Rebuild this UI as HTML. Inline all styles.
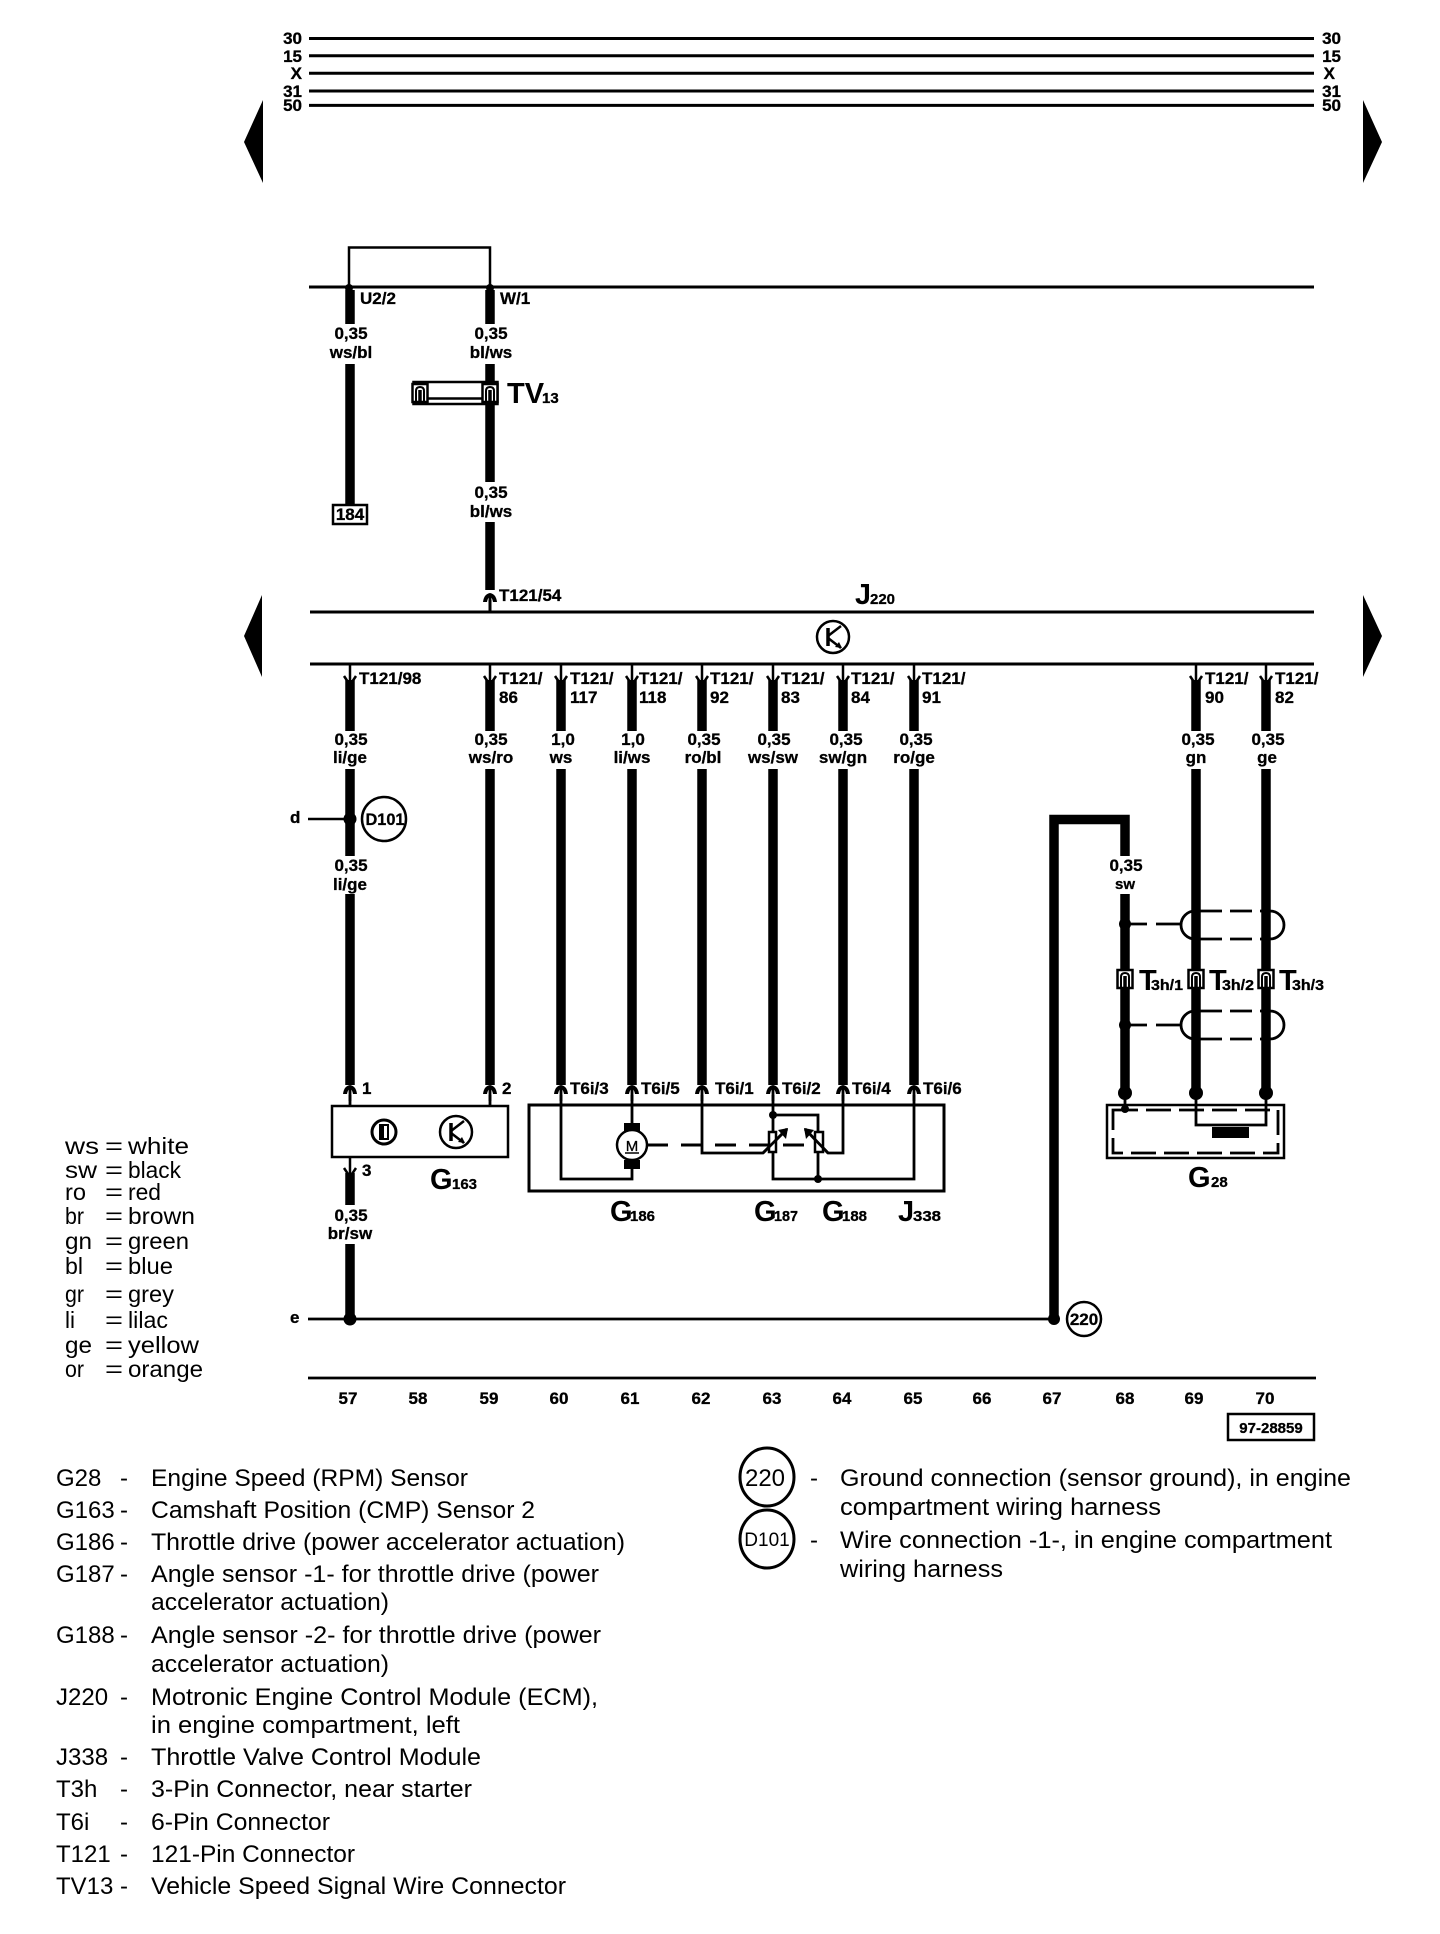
<!DOCTYPE html>
<html><head><meta charset="utf-8"><title>Wiring diagram</title>
<style>
html,body{margin:0;padding:0;background:#fff}
svg{display:block}
text{font-family:"Liberation Sans",sans-serif;fill:#000}
.b{font-weight:bold;font-size:17px;stroke:#000;stroke-width:.3}
.c{text-anchor:middle}
.r{text-anchor:end}
.big{font-weight:bold;font-size:29px}
.sm{font-weight:bold;font-size:15px;stroke:#000;stroke-width:.3}
.lg{font-size:24px}
.cl{font-size:23px}
.w{stroke:#000;stroke-width:9.5;fill:none}
.t{stroke:#000;stroke-width:2.8;fill:none}
.m{stroke:#000;stroke-width:3;fill:none}
.d{stroke:#000;stroke-width:3;fill:none;stroke-dasharray:21 13}
</style></head><body>
<svg width="1440" height="1934" viewBox="0 0 1440 1934" xmlns="http://www.w3.org/2000/svg">
<defs>
<g id="up"><path d="M-7 5Q-6 -3 0 -4Q6 -3 7 5L3 5Q2 0 0 0Q-2 0 -3 5Z" fill="#000"/><path d="M0 -2V12" stroke="#000" stroke-width="2.8"/></g>
<g id="dn"><path d="M0 -16V4" stroke="#000" stroke-width="2.5"/><path d="M-6 -4L0 5L6 -4" stroke="#000" stroke-width="2.5" fill="none"/></g>
<g id="tr"><circle r="16" fill="#fff" stroke="#000" stroke-width="2.5"/><path d="M-5 -9V9" stroke="#000" stroke-width="3.5"/><path d="M-5 -1L8 -11M-5 1L8 11" stroke="#000" stroke-width="2.5"/><path d="M9 11L2 10L6 5Z" fill="#000"/></g>
<g id="pin"><rect x="-7.5" y="-9" width="15" height="18" fill="#fff" stroke="#000" stroke-width="2.5"/><path d="M-4 8V-2Q-4 -6 0 -6Q4 -6 4 -2V8" fill="none" stroke="#000" stroke-width="2"/><path d="M0 -3V9" stroke="#000" stroke-width="3.5"/></g>
</defs>
<rect width="1440" height="1934" fill="#fff"/>

<!-- top bus -->
<path class="m" d="M309 38.5H1314M309 55.7H1314M309 73.2H1314M309 91H1314M309 105.4H1314"/>
<text class="b r" x="302" y="44">30</text><text class="b r" x="302" y="62">15</text><text class="b r" x="302" y="79">X</text><text class="b r" x="302" y="97">31</text><text class="b r" x="302" y="111">50</text>
<text class="b r" x="1341" y="44">30</text><text class="b r" x="1341" y="62">15</text><text class="b r" x="1335" y="79">X</text><text class="b r" x="1341" y="97">31</text><text class="b r" x="1341" y="111">50</text>
<path d="M244 142L263 100V183Z M1382 142L1363 100V183Z M244 636L262 595V677Z M1382 636L1363 595V677Z" fill="#000"/>

<!-- upper section -->
<path d="M349 287V247.5H490V287" stroke="#000" stroke-width="2.5" fill="none"/>
<path class="m" d="M309 287H1314"/>
<circle cx="349" cy="288" r="4"/><circle cx="490" cy="288" r="4"/>
<path class="w" d="M350 290V324M350 364V504M490 290V324M490 364V482M490 522V590"/>
<text class="b" x="360" y="304">U2/2</text><text class="b" x="500" y="304">W/1</text>
<text class="b c" x="351" y="339">0,35</text><text class="b c" x="351" y="358">ws/bl</text>
<text class="b c" x="491" y="339">0,35</text><text class="b c" x="491" y="358">bl/ws</text>
<text class="b c" x="491" y="498">0,35</text><text class="b c" x="491" y="517">bl/ws</text>
<rect x="333" y="505" width="34" height="19" fill="#fff" stroke="#000" stroke-width="2.5"/>
<text class="b c" x="350" y="520">184</text>
<rect x="413.5" y="382" width="84" height="22" fill="#fff" stroke="#000" stroke-width="2.5"/>
<path d="M420 398.5H490" stroke="#000" stroke-width="2.5"/>
<use href="#pin" x="420" y="393"/><use href="#pin" x="490" y="393"/>
<text class="big" x="507" y="403">TV</text><text class="sm" x="542" y="403">13</text>

<!-- J220 -->
<path class="m" d="M310 612H1314M310 664H1314"/>
<text class="big" x="855" y="604" textLength="16" lengthAdjust="spacingAndGlyphs">J</text><text class="sm" x="870" y="604">220</text>
<use href="#tr" x="833" y="637"/>
<use href="#up" x="490" y="597"/><path d="M490 600V612" stroke="#000" stroke-width="3"/>
<text class="b" x="499" y="601">T121/54</text>

<!-- wires below J220 -->
<g>
<use href="#dn" x="350" y="680"/><use href="#dn" x="490" y="680"/><use href="#dn" x="561" y="680"/><use href="#dn" x="632" y="680"/><use href="#dn" x="702" y="680"/><use href="#dn" x="773" y="680"/><use href="#dn" x="843" y="680"/><use href="#dn" x="914" y="680"/><use href="#dn" x="1196" y="680"/><use href="#dn" x="1266" y="680"/>
</g>
<path class="w" d="M350 680V731M350 769V856M350 894V1085M490 680V731M490 769V1085M561 680V731M561 769V1085M632 680V731M632 769V1085M702 680V731M702 769V1085M773 680V731M773 769V1085M843 680V731M843 769V1085M914 680V731M914 769V1085M1196 680V731M1196 769V1093M1266 680V731M1266 769V1093"/>
<text class="b" x="359" y="684">T121/98</text>
<text class="b" x="499" y="684">T121/</text><text class="b" x="499" y="703">86</text>
<text class="b" x="570" y="684">T121/</text><text class="b" x="570" y="703">117</text>
<text class="b" x="639" y="684">T121/</text><text class="b" x="639" y="703">118</text>
<text class="b" x="710" y="684">T121/</text><text class="b" x="710" y="703">92</text>
<text class="b" x="781" y="684">T121/</text><text class="b" x="781" y="703">83</text>
<text class="b" x="851" y="684">T121/</text><text class="b" x="851" y="703">84</text>
<text class="b" x="922" y="684">T121/</text><text class="b" x="922" y="703">91</text>
<text class="b" x="1205" y="684">T121/</text><text class="b" x="1205" y="703">90</text>
<text class="b" x="1275" y="684">T121/</text><text class="b" x="1275" y="703">82</text>

<text class="b c" x="351" y="745">0,35</text><text class="b c" x="350" y="763">li/ge</text>
<text class="b c" x="491" y="745">0,35</text><text class="b c" x="491" y="763">ws/ro</text>
<text class="b c" x="563" y="745">1,0</text><text class="b c" x="561" y="763">ws</text>
<text class="b c" x="633" y="745">1,0</text><text class="b c" x="632" y="763">li/ws</text>
<text class="b c" x="704" y="745">0,35</text><text class="b c" x="703" y="763">ro/bl</text>
<text class="b c" x="774" y="745">0,35</text><text class="b c" x="773" y="763">ws/sw</text>
<text class="b c" x="846" y="745">0,35</text><text class="b c" x="843" y="763">sw/gn</text>
<text class="b c" x="916" y="745">0,35</text><text class="b c" x="914" y="763">ro/ge</text>
<text class="b c" x="1198" y="745">0,35</text><text class="b c" x="1196" y="763">gn</text>
<text class="b c" x="1268" y="745">0,35</text><text class="b c" x="1267" y="763">ge</text>

<!-- D101 -->
<path d="M308 819H350" stroke="#000" stroke-width="2.5"/><circle cx="350" cy="819" r="6.5"/>
<circle cx="384" cy="819" r="22" fill="#fff" stroke="#000" stroke-width="2.5"/>
<text class="b c" x="385" y="825" textLength="39" lengthAdjust="spacingAndGlyphs">D101</text>
<text class="b" x="290" y="823">d</text>
<text class="b c" x="351" y="871">0,35</text><text class="b c" x="350" y="890">li/ge</text>

<!-- T6i / G163 connectors -->
<use href="#up" x="350" y="1089"/><use href="#up" x="490" y="1089"/><use href="#up" x="561" y="1089"/><use href="#up" x="632" y="1089"/><use href="#up" x="702" y="1089"/><use href="#up" x="773" y="1089"/><use href="#up" x="843" y="1089"/><use href="#up" x="914" y="1089"/>
<path class="t" d="M350 1095V1106M490 1095V1106"/>
<text class="b" x="362" y="1094">1</text><text class="b" x="502" y="1094">2</text>
<text class="b" x="570" y="1094">T6i/3</text><text class="b" x="641" y="1094">T6i/5</text><text class="b" x="715" y="1094">T6i/1</text><text class="b" x="782" y="1094">T6i/2</text><text class="b" x="852" y="1094">T6i/4</text><text class="b" x="923" y="1094">T6i/6</text>

<!-- G163 -->
<rect x="332" y="1106" width="176" height="51" fill="#fff" stroke="#000" stroke-width="2.5"/>
<circle cx="384" cy="1132" r="12" fill="#fff" stroke="#000" stroke-width="3"/>
<rect x="380" y="1125" width="8" height="14" fill="#fff" stroke="#000" stroke-width="2"/><rect x="380" y="1125" width="4" height="14"/>
<use href="#tr" x="456" y="1132"/>
<use href="#dn" x="350" y="1172"/>
<path class="w" d="M350 1173V1205M350 1244V1319"/>
<text class="b" x="362" y="1176">3</text>
<text class="big" x="430" y="1189">G</text><text class="sm" x="452" y="1189">163</text>
<text class="b c" x="351" y="1221">0,35</text><text class="b c" x="350" y="1239">br/sw</text>

<!-- J338 -->
<rect x="529" y="1105" width="415" height="86" fill="none" stroke="#000" stroke-width="3"/>
<path class="t" d="M561 1095V1179H632V1168M632 1095V1123M702 1095V1153H763L787 1129M773 1095V1132M773 1152V1179H914V1095M773 1115H818V1132M818 1152V1179M805 1129L828 1153H843V1095"/>
<rect x="624" y="1123" width="16" height="9"/><rect x="624" y="1160" width="16" height="9"/>
<circle cx="632" cy="1145" r="15" fill="#fff" stroke="#000" stroke-width="2.5"/>
<text class="sm c" x="632" y="1151" style="font-weight:normal">M</text><path d="M625 1153H639" stroke="#000" stroke-width="1.5"/>
<path class="d" d="M647 1145H812"/>
<rect x="769" y="1132" width="7" height="20" fill="#fff" stroke="#000" stroke-width="2.5"/>
<rect x="815" y="1132" width="8" height="20" fill="#fff" stroke="#000" stroke-width="2.5"/>
<path class="t" d="M763 1153L787 1129M805 1129L828 1153"/>
<path d="M788 1128L778 1130L786 1139ZM804 1128L814 1130L806 1139Z" fill="#000"/>
<circle cx="773" cy="1115" r="4"/><circle cx="818" cy="1179" r="4"/>
<text class="big" x="610" y="1221">G</text><text class="sm" x="630" y="1221" textLength="25" lengthAdjust="spacingAndGlyphs">186</text>
<text class="big" x="754" y="1221">G</text><text class="sm" x="774" y="1221" textLength="24" lengthAdjust="spacingAndGlyphs">187</text>
<text class="big" x="822" y="1221">G</text><text class="sm" x="842" y="1221" textLength="25" lengthAdjust="spacingAndGlyphs">188</text>
<text class="big" x="898" y="1221">J</text><text class="sm" x="913" y="1221" textLength="28" lengthAdjust="spacingAndGlyphs">338</text>

<!-- Ground wire / G28 -->
<path d="M1054 1319V819.5H1125V856M1125 894V1093" stroke="#000" stroke-width="9.5" fill="none"/>
<text class="b c" x="1126" y="871">0,35</text><text class="b c" x="1125" y="889" style="font-size:15px">sw</text>
<circle cx="1125" cy="924" r="6"/><circle cx="1125" cy="1025" r="6"/>
<path class="t" d="M1130 924H1147M1156 924H1182M1130 1025H1147M1156 1025H1182"/>
<path class="t" d="M1195 911A14 14 0 0 0 1195 939M1270 911A14 14 0 0 1 1270 939M1195 1011A14 14 0 0 0 1195 1039M1270 1011A14 14 0 0 1 1270 1039"/>
<path class="t" style="stroke-dasharray:22 8" d="M1200 911H1270M1200 939H1270M1200 1011H1270M1200 1039H1270"/>
<use href="#pin" x="1125" y="979"/><use href="#pin" x="1196" y="979"/><use href="#pin" x="1266" y="979"/>
<text class="big" x="1139" y="990">T</text><text class="sm" x="1151" y="990" textLength="32" lengthAdjust="spacingAndGlyphs">3h/1</text>
<text class="big" x="1209" y="990">T</text><text class="sm" x="1222" y="990" textLength="32" lengthAdjust="spacingAndGlyphs">3h/2</text>
<text class="big" x="1279" y="990">T</text><text class="sm" x="1292" y="990" textLength="32" lengthAdjust="spacingAndGlyphs">3h/3</text>
<circle cx="1125" cy="1093" r="7"/><circle cx="1196" cy="1093" r="7"/><circle cx="1266" cy="1093" r="7"/>
<rect x="1107" y="1105" width="177" height="53" fill="#fff" stroke="#000" stroke-width="2.5"/>
<path class="t" style="stroke-dasharray:25 8" d="M1113 1110H1278V1153H1113Z"/>
<path class="t" d="M1125 1093V1109M1196 1093V1125H1266V1093"/>
<circle cx="1125" cy="1109" r="4"/>
<rect x="1212" y="1127" width="37" height="11"/>
<text class="big" x="1188" y="1187">G</text><text class="sm" x="1211" y="1187">28</text>

<!-- e line -->
<path class="t" d="M308 1319H1055"/><circle cx="350" cy="1319" r="6.5"/><circle cx="1054" cy="1319" r="6"/>
<text class="b" x="290" y="1323">e</text>
<circle cx="1084" cy="1319" r="17" fill="#fff" stroke="#000" stroke-width="2.5"/>
<text class="b c" x="1084" y="1325">220</text>

<!-- bottom scale -->
<path class="t" d="M308 1378H1316"/>
<g>
<text class="b c" x="348" y="1404">57</text><text class="b c" x="418" y="1404">58</text><text class="b c" x="489" y="1404">59</text><text class="b c" x="559" y="1404">60</text><text class="b c" x="630" y="1404">61</text><text class="b c" x="701" y="1404">62</text><text class="b c" x="772" y="1404">63</text><text class="b c" x="842" y="1404">64</text><text class="b c" x="913" y="1404">65</text><text class="b c" x="982" y="1404">66</text><text class="b c" x="1052" y="1404">67</text><text class="b c" x="1125" y="1404">68</text><text class="b c" x="1194" y="1404">69</text><text class="b c" x="1265" y="1404">70</text>
</g>
<rect x="1228" y="1414" width="86" height="26" fill="none" stroke="#000" stroke-width="2.5"/>
<text class="b c" x="1271" y="1433" style="font-size:15px">97-28859</text>

<!-- colour legend -->
<text class="cl" x="65" y="1154" textLength="34" lengthAdjust="spacingAndGlyphs">ws</text><text class="cl" x="105" y="1154" textLength="18" lengthAdjust="spacingAndGlyphs">=</text><text class="cl" x="128" y="1154" textLength="61" lengthAdjust="spacingAndGlyphs">white</text>
<text class="cl" x="65" y="1178" textLength="32" lengthAdjust="spacingAndGlyphs">sw</text><text class="cl" x="105" y="1178" textLength="18" lengthAdjust="spacingAndGlyphs">=</text><text class="cl" x="128" y="1178" textLength="53" lengthAdjust="spacingAndGlyphs">black</text>
<text class="cl" x="65" y="1200" textLength="21" lengthAdjust="spacingAndGlyphs">ro</text><text class="cl" x="105" y="1200" textLength="18" lengthAdjust="spacingAndGlyphs">=</text><text class="cl" x="128" y="1200" textLength="33" lengthAdjust="spacingAndGlyphs">red</text>
<text class="cl" x="65" y="1224" textLength="19" lengthAdjust="spacingAndGlyphs">br</text><text class="cl" x="105" y="1224" textLength="18" lengthAdjust="spacingAndGlyphs">=</text><text class="cl" x="128" y="1224" textLength="67" lengthAdjust="spacingAndGlyphs">brown</text>
<text class="cl" x="65" y="1249" textLength="27" lengthAdjust="spacingAndGlyphs">gn</text><text class="cl" x="105" y="1249" textLength="18" lengthAdjust="spacingAndGlyphs">=</text><text class="cl" x="128" y="1249" textLength="61" lengthAdjust="spacingAndGlyphs">green</text>
<text class="cl" x="65" y="1274" textLength="18" lengthAdjust="spacingAndGlyphs">bl</text><text class="cl" x="105" y="1274" textLength="18" lengthAdjust="spacingAndGlyphs">=</text><text class="cl" x="128" y="1274" textLength="45" lengthAdjust="spacingAndGlyphs">blue</text>
<text class="cl" x="65" y="1302" textLength="19" lengthAdjust="spacingAndGlyphs">gr</text><text class="cl" x="105" y="1302" textLength="18" lengthAdjust="spacingAndGlyphs">=</text><text class="cl" x="128" y="1302" textLength="46" lengthAdjust="spacingAndGlyphs">grey</text>
<text class="cl" x="65" y="1328" textLength="10" lengthAdjust="spacingAndGlyphs">li</text><text class="cl" x="105" y="1328" textLength="18" lengthAdjust="spacingAndGlyphs">=</text><text class="cl" x="128" y="1328" textLength="40" lengthAdjust="spacingAndGlyphs">lilac</text>
<text class="cl" x="65" y="1353" textLength="27" lengthAdjust="spacingAndGlyphs">ge</text><text class="cl" x="105" y="1353" textLength="18" lengthAdjust="spacingAndGlyphs">=</text><text class="cl" x="128" y="1353" textLength="71" lengthAdjust="spacingAndGlyphs">yellow</text>
<text class="cl" x="65" y="1377" textLength="19" lengthAdjust="spacingAndGlyphs">or</text><text class="cl" x="105" y="1377" textLength="18" lengthAdjust="spacingAndGlyphs">=</text><text class="cl" x="128" y="1377" textLength="75" lengthAdjust="spacingAndGlyphs">orange</text>

<!-- component legend -->
<g class="lg">
<text class="lg" x="56" y="1486">G28</text><text class="lg" x="120" y="1486">-</text><text class="lg" x="151" y="1486" textLength="317" lengthAdjust="spacingAndGlyphs">Engine Speed (RPM) Sensor</text>
<text class="lg" x="56" y="1518">G163</text><text class="lg" x="120" y="1518">-</text><text class="lg" x="151" y="1518" textLength="384" lengthAdjust="spacingAndGlyphs">Camshaft Position (CMP) Sensor 2</text>
<text class="lg" x="56" y="1550">G186</text><text class="lg" x="120" y="1550">-</text><text class="lg" x="151" y="1550" textLength="474" lengthAdjust="spacingAndGlyphs">Throttle drive (power accelerator actuation)</text>
<text class="lg" x="56" y="1582">G187</text><text class="lg" x="120" y="1582">-</text><text class="lg" x="151" y="1582" textLength="448" lengthAdjust="spacingAndGlyphs">Angle sensor -1- for throttle drive (power</text>
<text class="lg" x="151" y="1610" textLength="238" lengthAdjust="spacingAndGlyphs">accelerator actuation)</text>
<text class="lg" x="56" y="1643">G188</text><text class="lg" x="120" y="1643">-</text><text class="lg" x="151" y="1643" textLength="450" lengthAdjust="spacingAndGlyphs">Angle sensor -2- for throttle drive (power</text>
<text class="lg" x="151" y="1672" textLength="238" lengthAdjust="spacingAndGlyphs">accelerator actuation)</text>
<text class="lg" x="56" y="1705">J220</text><text class="lg" x="120" y="1705">-</text><text class="lg" x="151" y="1705" textLength="447" lengthAdjust="spacingAndGlyphs">Motronic Engine Control Module (ECM),</text>
<text class="lg" x="151" y="1733" textLength="309" lengthAdjust="spacingAndGlyphs">in engine compartment, left</text>
<text class="lg" x="56" y="1765">J338</text><text class="lg" x="120" y="1765">-</text><text class="lg" x="151" y="1765" textLength="330" lengthAdjust="spacingAndGlyphs">Throttle Valve Control Module</text>
<text class="lg" x="56" y="1797">T3h</text><text class="lg" x="120" y="1797">-</text><text class="lg" x="151" y="1797" textLength="321" lengthAdjust="spacingAndGlyphs">3-Pin Connector, near starter</text>
<text class="lg" x="56" y="1830">T6i</text><text class="lg" x="120" y="1830">-</text><text class="lg" x="151" y="1830" textLength="179" lengthAdjust="spacingAndGlyphs">6-Pin Connector</text>
<text class="lg" x="56" y="1862">T121</text><text class="lg" x="120" y="1862">-</text><text class="lg" x="151" y="1862" textLength="204" lengthAdjust="spacingAndGlyphs">121-Pin Connector</text>
<text class="lg" x="56" y="1894">TV13</text><text class="lg" x="120" y="1894">-</text><text class="lg" x="151" y="1894" textLength="415" lengthAdjust="spacingAndGlyphs">Vehicle Speed Signal Wire Connector</text>
</g>

<!-- right legend -->
<ellipse cx="767" cy="1477" rx="27" ry="29" fill="#fff" stroke="#000" stroke-width="3"/>
<text class="lg c" x="765" y="1486">220</text>
<ellipse cx="767" cy="1539" rx="27" ry="29" fill="#fff" stroke="#000" stroke-width="3"/>
<text class="c" x="767" y="1546" style="font-size:19px">D101</text>
<text class="lg" x="810" y="1486">-</text><text class="lg" x="840" y="1486" textLength="511" lengthAdjust="spacingAndGlyphs">Ground connection (sensor ground), in engine</text>
<text class="lg" x="840" y="1515" textLength="321" lengthAdjust="spacingAndGlyphs">compartment wiring harness</text>
<text class="lg" x="810" y="1548">-</text><text class="lg" x="840" y="1548" textLength="492" lengthAdjust="spacingAndGlyphs">Wire connection -1-, in engine compartment</text>
<text class="lg" x="840" y="1577" textLength="163" lengthAdjust="spacingAndGlyphs">wiring harness</text>
</svg>
</body></html>
